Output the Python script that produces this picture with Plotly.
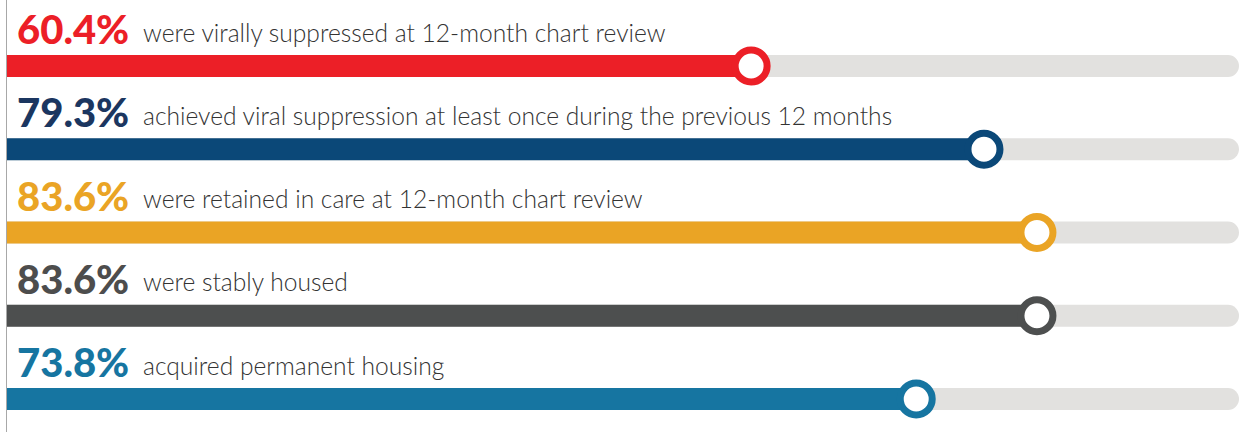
import plotly.graph_objects as go

values = [60.4, 79.3, 83.6, 83.6, 73.8]
labels = ["60.4%", "79.3%", "83.6%", "83.6%", "73.8%"]
descriptions = [
    "were virally suppressed at 12-month chart review",
    "achieved viral suppression at least once during the previous 12 months",
    "were retained in care at 12-month chart review",
    "were stably housed",
    "acquired permanent housing",
]
bar_colors = ["#ec1f27", "#0b4878", "#eaa425", "#4d4f4f", "#1675a1"]
text_colors = ["#ec1f27", "#1b3660", "#eaa425", "#4d4d4d", "#1675a1"]
track_max = [100] * 5
rows = list(range(len(values)))

fig = go.Figure()

# background track
fig.add_trace(go.Bar(
    x=track_max, y=rows, orientation="h", width=0.265,
    marker=dict(color="#e2e1df", cornerradius=11, line=dict(width=0)),
    hoverinfo="skip", showlegend=False,
))
# value bars
fig.add_trace(go.Bar(
    x=values, y=rows, orientation="h", width=0.265,
    marker=dict(color=bar_colors, line=dict(width=0)),
    hoverinfo="skip", showlegend=False,
))
# end rings
fig.add_trace(go.Scatter(
    x=values, y=rows, mode="markers",
    marker=dict(size=32, color="white", symbol="circle",
                line=dict(color=bar_colors, width=7)),
    hoverinfo="skip", showlegend=False,
))

for i in rows:
    fig.add_annotation(
        x=0, y=i, xref="x", yref="y", xanchor="left", yanchor="middle",
        xshift=8, yshift=37, showarrow=False,
        text=labels[i],
        font=dict(family="Lato", size=40, weight=900, color=text_colors[i]),
    )
    fig.add_annotation(
        x=0, y=i, xref="x", yref="y", xanchor="left", yanchor="middle",
        xshift=134, yshift=34, showarrow=False,
        text=descriptions[i],
        font=dict(family="Lato", size=24.6, weight=300, color="#333333"),
    )

fig.update_layout(
    width=1244, height=432,
    margin=dict(l=7, r=5, t=0, b=0),
    paper_bgcolor="white", plot_bgcolor="white",
    barmode="overlay",
    xaxis=dict(range=[0, 100], visible=False, fixedrange=True),
    yaxis=dict(range=[4.396, -0.793], showgrid=False, zeroline=False,
               showticklabels=False, ticks="", showline=True,
               linecolor="#a8a8a8", linewidth=1, fixedrange=True),
)

fig.write_html("out.html", config={"displayModeBar": False})
